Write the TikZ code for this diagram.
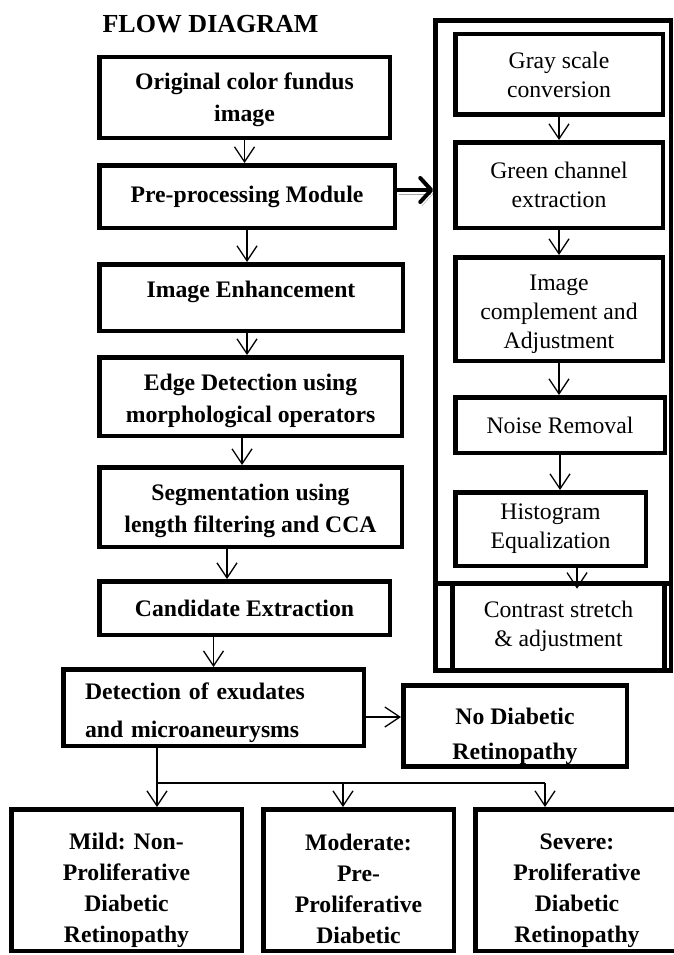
\documentclass[tikz,border=0pt]{standalone}
\usepackage{fontspec}
\setmainfont{Liberation Serif}
\usetikzlibrary{arrows.meta}

\begin{document}
\begin{tikzpicture}[
    x=1pt, y=-1pt,
    box/.style={draw, rectangle, line width=4.5pt, align=center, inner sep=2pt},
    mainbox/.style={box, font=\fontsize{23.7}{32}\selectfont\bfseries},
    subbox/.style={box, font=\fontsize{23.7}{29}\selectfont},
    gradebox/.style={box, minimum height=141.5pt, font=\fontsize{23.7}{31}\selectfont\bfseries},
    flow/.style={-{Straight Barb[length=15pt,width=20pt]}, line width=1.3pt},
    bigflow/.style={-{Straight Barb[length=11pt,width=24pt,round]}, line width=4pt,
      preaction={draw=black!35, transform canvas={shift={(1.5pt,-4pt)}}}}
  ]
  \useasboundingbox (0,0) rectangle (673,955);

  \node[font=\fontsize{26}{30}\selectfont\bfseries] (title) at (210.5,24) {FLOW DIAGRAM};

  % main column
  \node[mainbox, minimum width=290.5pt, minimum height=80.5pt] (orig) at (244.5,97.5) {\rule{0pt}{21pt}Original color fundus\\image};
  \node[mainbox, minimum width=295.5pt, minimum height=62.5pt] (pre) at (247,196.5) {Pre-processing Module};
  \node[mainbox, minimum width=303.5pt, minimum height=66.5pt] (enh) at (251,297.5) {Image Enhancement\rule[-16pt]{0pt}{16pt}};
  \node[mainbox, minimum width=302.5pt, minimum height=78.5pt] (edge) at (250.5,396.5) {\rule{0pt}{24.5pt}Edge Detection using\\morphological operators};
  \node[mainbox, minimum width=302.5pt, minimum height=79.5pt] (seg) at (250.5,507) {\rule{0pt}{24.5pt}Segmentation using\\length filtering and CCA};
  \node[mainbox, minimum width=290.5pt, minimum height=53.5pt] (cand) at (244.5,608) {Candidate Extraction};
  \node[mainbox, align=left, text width=257pt, inner xsep=21.75pt, minimum height=76.5pt,
    font=\fontsize{23.7}{38}\selectfont\bfseries] (det) at (213.5,707.5) {\rule{0pt}{26.5pt}Detection of exudates\\and microaneurysms};
  \node[mainbox, minimum width=223.5pt, minimum height=77.5pt,
    font=\fontsize{23.7}{35}\selectfont\bfseries] (nodr) at (515,726) {\rule{0pt}{36.5pt}No Diabetic\\Retinopathy};

  % grades
  \node[gradebox, minimum width=230.5pt] (mild) at (126.5,880) {\rule{0pt}{38pt}Mild: Non-\\Proliferative\\Diabetic\\Retinopathy};
  \node[gradebox, minimum width=190.5pt] (mod) at (358.5,880) {\rule{0pt}{38pt}Moderate:\\Pre-\\Proliferative\\Diabetic\rule[-5pt]{0pt}{5pt}};
  \node[gradebox, minimum width=203.5pt] (sev) at (577,880) {\rule{0pt}{38pt}Severe:\\Proliferative\\Diabetic\\Retinopathy};

  % pre-processing steps
  \node[box, minimum width=235.5pt, minimum height=650pt] (prebox) at (553.25,345.5) {};
  \coordinate (sep) at (553,583);
  \draw[line width=5pt] (prebox.west |- sep) -- (prebox.east |- sep);
  \node[subbox, minimum width=207.5pt, minimum height=80.5pt] (gray) at (559,74.5) {Gray scale\\conversion};
  \node[subbox, minimum width=207.5pt, minimum height=85.5pt] (green) at (559,185) {Green channel\\extraction};
  \node[subbox, minimum width=207.5pt, minimum height=103.5pt] (compl) at (559,309) {\rule{0pt}{26pt}Image\\complement and\\Adjustment};
  \node[subbox, minimum width=209.5pt, minimum height=55.5pt] (noise) at (560,425) {Noise Removal};
  \node[subbox, minimum width=190.5pt, minimum height=73.5pt] (hist) at (550.5,529) {Histogram\\Equalization};
  \node[subbox, minimum width=212pt, minimum height=87.5pt] (contr) at (558.5,626.75) {Contrast stretch\\\& adjustment};

  % connectors
  \draw[flow] (orig.south) -- (orig.south |- pre.north);
  \draw[flow] (pre.south) -- (pre.south |- enh.north);
  \draw[flow] ([xshift=-4pt]enh.south) -- ([xshift=-4pt]enh.south |- edge.north);
  \draw[flow] ([xshift=-8.5pt]edge.south) -- ([xshift=-8.5pt]edge.south |- seg.north);
  \draw[flow] ([xshift=-23.5pt]seg.south) -- ([xshift=-23.5pt]seg.south |- cand.north);
  \draw[flow] (det.north |- cand.south) -- (det.north);
  \draw[bigflow] ([yshift=6.5pt]pre.east) -- ([yshift=6.5pt]pre.east -| prebox.west);

  \draw[flow] (gray) -- (green);
  \draw[flow] (green) -- (compl);
  \draw[flow] (compl.south) -- (compl.south |- noise.north);
  \draw[flow] (noise.south) -- (noise.south |- hist.north);
  \draw[flow, shorten >=-8pt] ([xshift=18.5pt]contr.north |- hist.south) -- ([xshift=18.5pt]contr.north);

  \draw[flow] ([yshift=-9.5pt]det.east) -- ([yshift=-9.5pt]det.east -| nodr.west);

  \coordinate (split) at (157,783);
  \coordinate (jmod) at (343,783);
  \coordinate (jsev) at (545,783);
  \draw[line width=1.3pt] (split |- det.south) -- (split) -- (jsev);
  \draw[flow] (split) -- (split |- mild.north);
  \draw[flow] (jmod) -- (jmod |- mod.north);
  \draw[flow] (jsev) -- (jsev |- sev.north);
\end{tikzpicture}
\end{document}
